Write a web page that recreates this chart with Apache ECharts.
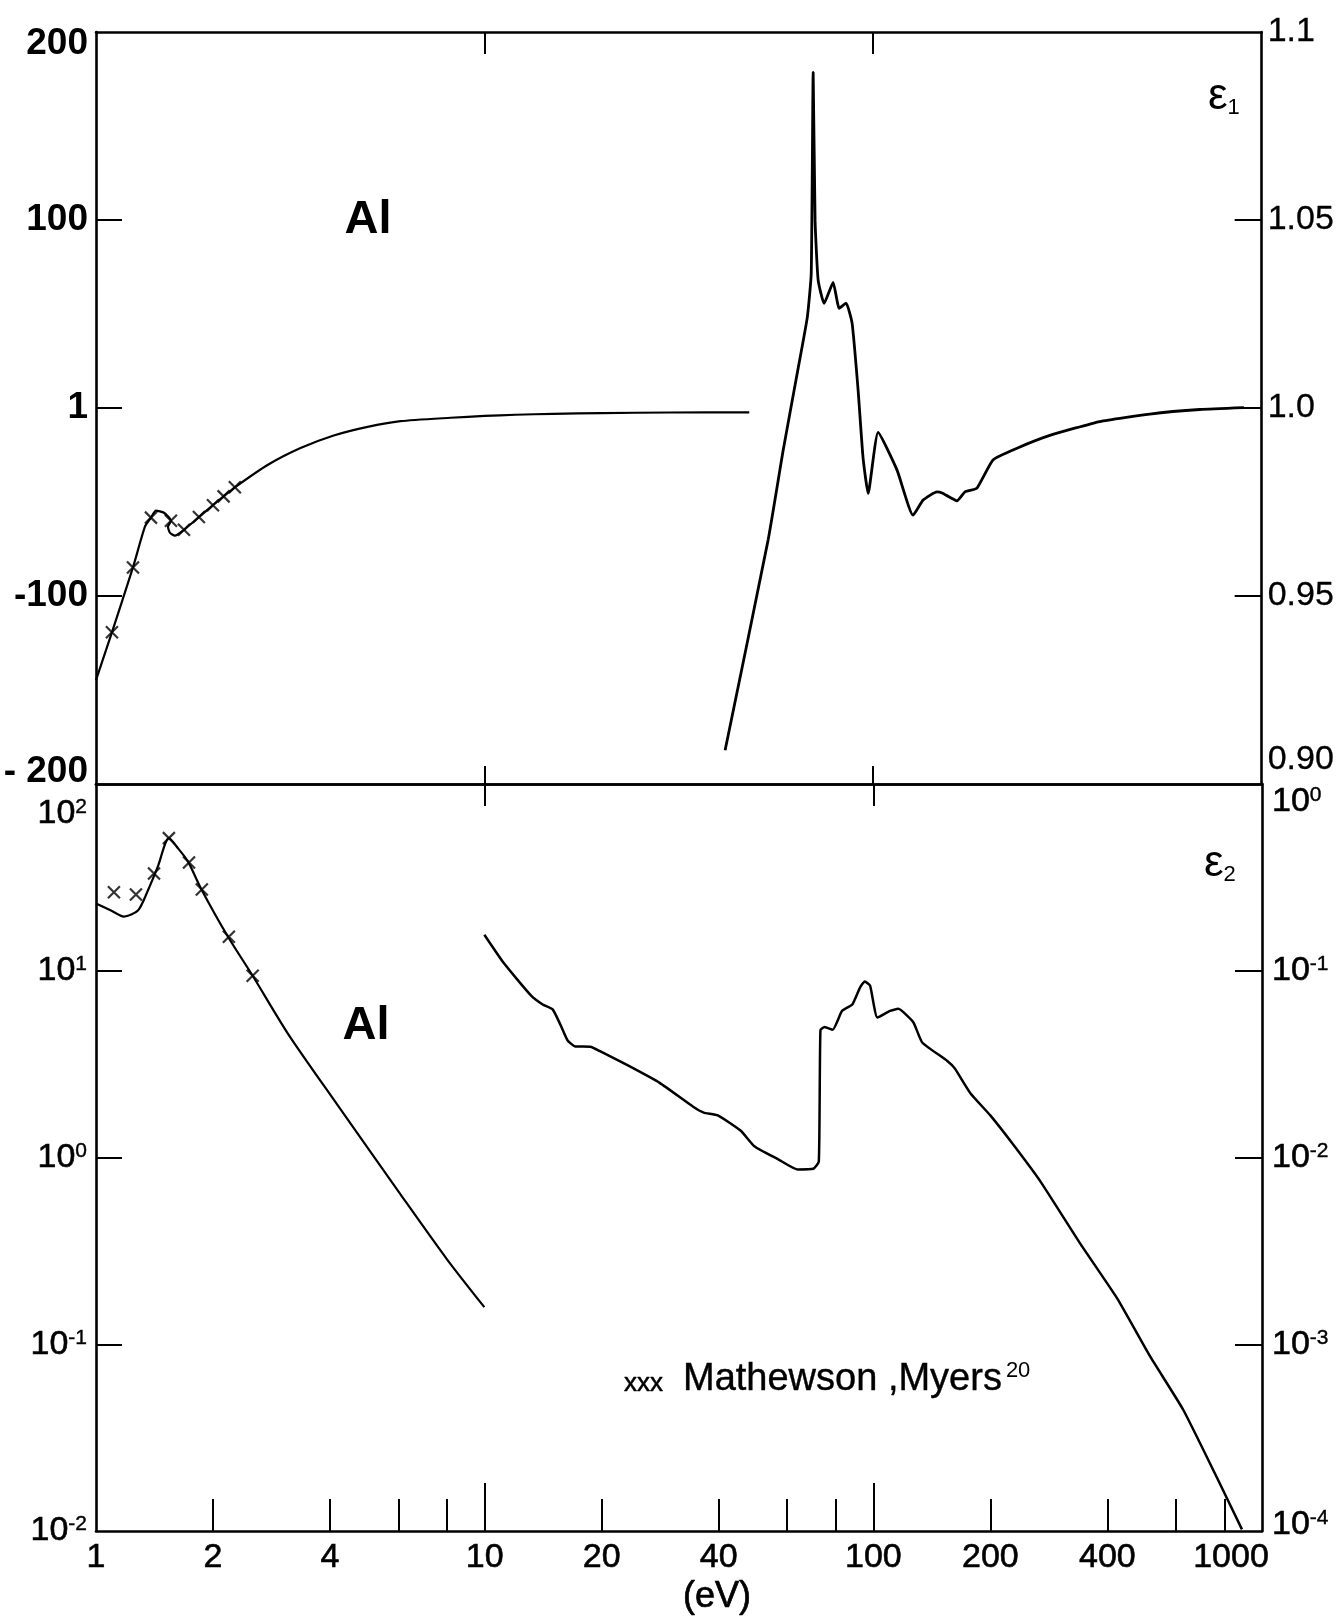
<!DOCTYPE html>
<html><head><meta charset="utf-8">
<script src="https://cdn.jsdelivr.net/npm/echarts@6/dist/echarts.min.js"></script>
<style>html,body{margin:0;padding:0;background:#fff}#c{width:1337px;height:1617px}</style>
</head><body><div id="c"></div>
<script>
// ---------- data (photon energy in eV) ----------
// epsilon_1, low-energy branch (left axis)
const e1LowE = [1.0, 1.099, 1.245, 1.337, 1.385, 1.426, 1.496, 1.559, 1.532, 1.549, 1.596, 1.684, 1.84, 2.0, 2.13, 2.277, 2.77, 3.36, 4.09, 5.0, 6.08, 8.18, 10, 12, 15, 20, 30, 48];
const e1LowV = [-144.7, -119.3, -84.8, -63.0, -58.3, -54.6, -55.7, -60.0, -63.1, -66.3, -67.9, -64.8, -58.0, -51.7, -47.0, -42.2, -30.2, -21.3, -14.6, -10.0, -7.0, -5.2, -4.2, -3.6, -3.1, -2.7, -2.4, -2.3];
// epsilon_1, Mathewson & Myers points
const e1MarkE = [1.099, 1.245, 1.385, 1.559, 1.684, 1.84, 2.0, 2.13, 2.277];
const e1MarkV = [-119.3, -84.8, -58.3, -60.0, -64.8, -58.0, -51.7, -47.0, -42.2];
// epsilon_1, high-energy branch (right axis)
const e1HighE = [41.6, 53.7, 58.7, 63.8, 67.7, 69.3, 70.1, 70.9, 72.2, 74.8, 78.9, 81.8, 85.2, 88.3, 91.5, 94.2, 97.1, 103, 115.3, 126.7, 134.5, 146, 150.5, 164.4, 172.4, 185, 203.5, 234.6, 285, 383, 515, 693, 900];
const e1HighV = [0.909, 0.965, 0.9888, 1.0093, 1.0241, 1.0358, 1.0893, 1.0499, 1.034, 1.0278, 1.0334, 1.0265, 1.0279, 1.0225, 1.0047, 0.9868, 0.9773, 0.9935, 0.9834, 0.9715, 0.9755, 0.9777, 0.9774, 0.9753, 0.9777, 0.9787, 0.9862, 0.9893, 0.9927, 0.9964, 0.9984, 0.9996, 1.0001];
// epsilon_2, low-energy branch (left axis)
const e2LowE = [1.0, 1.093, 1.18, 1.282, 1.36, 1.443, 1.54, 1.625, 1.724, 1.862, 2.186, 2.53, 3.11, 4.09, 6.08, 8.0, 9.98];
const e2LowV = [22.9, 21.0, 19.5, 21.0, 26.9, 36.2, 51.3, 45.3, 38.5, 27.6, 15.2, 9.4, 4.64, 2.04, 0.633, 0.285, 0.158];
// epsilon_2, Mathewson & Myers points
const e2MarkE = [1.112, 1.267, 1.41, 1.54, 1.735, 1.872, 2.197, 2.53];
const e2MarkV = [26.3, 25.6, 33.2, 51.3, 38.0, 27.2, 15.2, 9.4];
// epsilon_2, high-energy branch (right axis)
const e2HighE = [9.98, 11.2, 13.15, 14.1, 14.96, 15.7, 16.35, 17.1, 18.7, 19.8, 23.3, 28.2, 34.4, 36.6, 39.8, 45.6, 49.4, 56.8, 63.8, 70.1, 72.4, 73.1, 74.9, 78.6, 83.1, 88.3, 92.4, 95.1, 98.1, 102.4, 110.4, 115.9, 126.7, 133.6, 155, 162, 177.7, 200, 228.5, 269, 340, 424, 515, 627, 765, 888];
const e2HighV = [0.156, 0.110, 0.0738, 0.066, 0.0621, 0.0509, 0.0423, 0.0393, 0.0392, 0.0371, 0.0312, 0.0251, 0.0187, 0.0174, 0.0168, 0.0139, 0.0115, 0.0098, 0.00863, 0.0087, 0.0095, 0.048, 0.050, 0.0483, 0.061, 0.066, 0.0813, 0.0877, 0.0832, 0.0562, 0.061, 0.0625, 0.053, 0.0413, 0.0329, 0.030, 0.0221, 0.0168, 0.0118, 0.00745, 0.00348, 0.00176, 0.000863, 0.000446, 0.000194, 0.000102];

// ---------- ticks & labels ----------
const xLabelTicks = [1, 2, 4, 10, 20, 40, 100, 200, 400, 1000];
const xMajorTicks = [10, 100];
const xMinorTicks = [2, 4, 6, 8, 20, 40, 60, 80, 200, 400, 600, 800];
const e1LeftTicks = [-200, -100, 0, 100, 200];
const e1LeftLabels = ['- 200', '-100', '1', '100', '200'];
const e1RightTicks = [0.9, 0.95, 1.0, 1.05, 1.1];
const e1RightLabels = ['0.90', '0.95', '1.0', '1.05', '1.1'];
const e2LeftTicks = [0.01, 0.1, 1, 10, 100];
const e2LeftExp = ['-2', '-1', '0', '1', '2'];
const e2RightTicks = [0.0001, 0.001, 0.01, 0.1, 1];
const e2RightExp = ['-4', '-3', '-2', '-1', '0'];
const legendText = 'Mathewson ,Myers';
const legendRef = '20';

// ---------- helpers ----------
const F = "'Liberation Sans',Arial,sans-serif";
const pairs = (xs, ys) => xs.map((x, i) => [x, ys[i]]);
function idxLin(ticks, v) { let b = 0, d = Infinity; ticks.forEach((t, i) => { const e = Math.abs(t - v); if (e < d) { d = e; b = i; } }); return b; }
function idxLog(ticks, v) { let b = 0, d = Infinity; ticks.forEach((t, i) => { const e = Math.abs(Math.log10(t) - Math.log10(v)); if (e < d) { d = e; b = i; } }); return b; }
function shiftWrap(body, s) { if (!s) return body; const g = '{g' + Math.abs(s) + '| }'; return s > 0 ? g + '\n' + body : body + '\n' + g; }
function gapStyles(list) { const r = {}; list.forEach(s => { r['g' + Math.abs(s)] = { fontSize: 2, lineHeight: 2 * Math.abs(s) }; }); return r; }

const shTL = [-12, 0, 0, 0, 12];
const shTR = [-24, 0, 0, 0, 0];
const shBL = [0, 0, 0, 0, 30];
const shBR = [-6, 0, 0, 0, 18];

const AX = { color: '#000', width: 2.6 };
const TK = { color: '#000', width: 2 };
const MED = { textBorderColor: '#000', textBorderWidth: 0.6 };
const supRich = {
  b: Object.assign({ fontSize: 34, fontFamily: F, lineHeight: 34, color: '#000' }, MED),
  s: Object.assign({ fontSize: 21, fontFamily: F, lineHeight: 14, verticalAlign: 'top', color: '#000' }, { textBorderColor: '#000', textBorderWidth: 0.4 })
};

function xAx(grid, pos, tickVals, tickLen, lineShow, labelCfg) {
  return {
    type: 'log', logBase: 10, min: 1, max: 1000, gridIndex: grid, position: pos,
    axisLine: { show: lineShow, onZero: false, lineStyle: AX },
    axisTick: { show: true, inside: true, length: tickLen, customValues: tickVals, lineStyle: TK },
    axisLabel: labelCfg || { show: false },
    splitLine: { show: false }, minorTick: { show: false }
  };
}

const crossSym = 'path://M0,0L10,10M0,10L10,0';
const LINE = { color: '#000', width: 2.2 };

const option = {
  animation: false,
  backgroundColor: '#fff',
  grid: [
    { left: 96, right: 75, top: 32, height: 752 },
    { left: 96, right: 75, top: 784, height: 747 }
  ],
  xAxis: [
    xAx(0, 'bottom', xMajorTicks, 18, true),
    xAx(0, 'top', xMajorTicks, 22, true),
    xAx(1, 'bottom', xMajorTicks, 48, true, {
      show: true, customValues: xLabelTicks, margin: 10, color: '#000',
      formatter: v => { const i = idxLog(xLabelTicks, v); const t = String(xLabelTicks[i]); return i === xLabelTicks.length - 1 ? '{r|' + t + '}' : '{n|' + t + '}'; },
      rich: {
        n: Object.assign({ fontSize: 34, fontFamily: F, color: '#000' }, MED),
        r: Object.assign({ fontSize: 34, fontFamily: F, color: '#000', padding: [0, 62, 0, 0] }, MED)
      }
    }),
    xAx(1, 'bottom', xMinorTicks, 32, false),
    xAx(1, 'top', xMajorTicks, 22, true)
  ],
  yAxis: [
    {
      type: 'value', gridIndex: 0, position: 'left', min: -200, max: 200,
      axisLine: { show: true, onZero: false, lineStyle: AX },
      axisTick: { show: true, inside: true, length: 26, customValues: [-100, 0, 100], lineStyle: TK },
      axisLabel: {
        customValues: e1LeftTicks, margin: 8,
        formatter: v => { const i = idxLin(e1LeftTicks, v); return shiftWrap('{b|' + e1LeftLabels[i] + '}', shTL[i]); },
        rich: Object.assign({ b: { fontSize: 37, fontWeight: 'bold', fontFamily: F, lineHeight: 38, color: '#000' } }, gapStyles([12]))
      },
      splitLine: { show: false }
    },
    {
      type: 'value', gridIndex: 0, position: 'right', min: 0.9, max: 1.1,
      axisLine: { show: true, onZero: false, lineStyle: AX },
      axisTick: { show: true, inside: true, length: 27, customValues: [0.95, 1.0, 1.05], lineStyle: TK },
      axisLabel: {
        customValues: e1RightTicks, margin: 6,
        formatter: v => { const i = idxLin(e1RightTicks, v); return shiftWrap('{b|' + e1RightLabels[i] + '}', shTR[i]); },
        rich: Object.assign({ b: Object.assign({ fontSize: 34, fontFamily: F, lineHeight: 34, color: '#000' }, { textBorderColor: '#000', textBorderWidth: 0.3 }) }, gapStyles([24]))
      },
      splitLine: { show: false }
    },
    {
      type: 'log', logBase: 10, gridIndex: 1, position: 'left', min: 0.01, max: 100,
      axisLine: { show: true, onZero: false, lineStyle: AX },
      axisTick: { show: true, inside: true, length: 26, customValues: [0.1, 1, 10], lineStyle: TK },
      axisLabel: {
        customValues: e2LeftTicks, margin: 9,
        formatter: v => { const i = idxLog(e2LeftTicks, v); return shiftWrap('{b|10}{s|' + e2LeftExp[i] + '}', shBL[i]); },
        rich: Object.assign({}, supRich, gapStyles([30]))
      },
      splitLine: { show: false }, minorTick: { show: false }
    },
    {
      type: 'log', logBase: 10, gridIndex: 1, position: 'right', min: 0.0001, max: 1,
      axisLine: { show: true, onZero: false, lineStyle: AX },
      axisTick: { show: true, inside: true, length: 27, customValues: [0.001, 0.01, 0.1], lineStyle: TK },
      axisLabel: {
        customValues: e2RightTicks, margin: 10,
        formatter: v => { const i = idxLog(e2RightTicks, v); return shiftWrap('{b|10}{s|' + e2RightExp[i] + '}', shBR[i]); },
        rich: Object.assign({}, supRich, gapStyles([6, 18]))
      },
      splitLine: { show: false }, minorTick: { show: false }
    }
  ],
  series: [
    { name: 'eps1 low', type: 'line', xAxisIndex: 0, yAxisIndex: 0, data: pairs(e1LowE, e1LowV),
      showSymbol: false, smooth: 0.2, lineStyle: LINE, silent: true },
    { name: 'eps1 Mathewson Myers', type: 'scatter', xAxisIndex: 0, yAxisIndex: 0, data: pairs(e1MarkE, e1MarkV),
      symbol: crossSym, symbolSize: 12, itemStyle: { color: '#000', borderColor: '#000', borderWidth: 2.2 }, silent: true },
    { name: 'eps1 high', type: 'line', xAxisIndex: 0, yAxisIndex: 1, data: pairs(e1HighE, e1HighV),
      showSymbol: false, smooth: 0.15, lineStyle: { color: '#000', width: 2.8 }, silent: true },
    { name: 'eps2 low', type: 'line', xAxisIndex: 2, yAxisIndex: 2, data: pairs(e2LowE, e2LowV),
      showSymbol: false, smooth: 0.25, lineStyle: LINE, silent: true },
    { name: 'eps2 Mathewson Myers', type: 'scatter', xAxisIndex: 2, yAxisIndex: 2, data: pairs(e2MarkE, e2MarkV),
      symbol: crossSym, symbolSize: 12, itemStyle: { color: '#000', borderColor: '#000', borderWidth: 2.2 }, silent: true },
    { name: 'eps2 high', type: 'line', xAxisIndex: 2, yAxisIndex: 3, data: pairs(e2HighE, e2HighV),
      showSymbol: false, smooth: 0.15, lineStyle: { color: '#000', width: 2.5 }, silent: true }
  ],
  graphic: [
    { type: 'text', x: 368, y: 220, style: { text: 'Al', fontSize: 47, fontWeight: 'bold', fontFamily: F, fill: '#000', align: 'center', verticalAlign: 'middle' } },
    { type: 'text', x: 366, y: 1026, style: { text: 'Al', fontSize: 47, fontWeight: 'bold', fontFamily: F, fill: '#000', align: 'center', verticalAlign: 'middle' } },
    { type: 'text', x: 1208, y: 97, style: { text: '{e|ε}{s|1}', align: 'left', verticalAlign: 'middle',
      rich: { e: { fontSize: 44, fontFamily: F, lineHeight: 44, fill: '#000' }, s: { fontSize: 22, fontFamily: F, lineHeight: 12, verticalAlign: 'bottom', fill: '#000' } } } },
    { type: 'text', x: 1204, y: 864, style: { text: '{e|ε}{s|2}', align: 'left', verticalAlign: 'middle',
      rich: { e: { fontSize: 44, fontFamily: F, lineHeight: 44, fill: '#000' }, s: { fontSize: 22, fontFamily: F, lineHeight: 12, verticalAlign: 'bottom', fill: '#000' } } } },
    { type: 'text', x: 624, y: 1384, style: { text: 'xxx', fontSize: 26, fontFamily: F, fill: '#000', stroke: '#000', lineWidth: 0.5, align: 'left', verticalAlign: 'middle' } },
    { type: 'text', x: 683, y: 1380, style: { text: '{t|' + legendText + '}{s|' + legendRef + '}', align: 'left', verticalAlign: 'middle',
      rich: { t: { fontSize: 38, fontFamily: F, lineHeight: 40, fill: '#000', stroke: '#000', lineWidth: 0.4 },
              s: { fontSize: 22, fontFamily: F, lineHeight: 28, verticalAlign: 'top', fill: '#000', padding: [0, 0, 0, 4] } } } },
    { type: 'text', x: 717, y: 1597, style: { text: '(eV)', fontSize: 36, fontFamily: F, fill: '#000', stroke: '#000', lineWidth: 0.7, align: 'center', verticalAlign: 'middle' } }
  ]
};

const chart = echarts.init(document.getElementById('c'), null, { renderer: 'canvas' });
chart.setOption(option);
</script>
</body></html>
